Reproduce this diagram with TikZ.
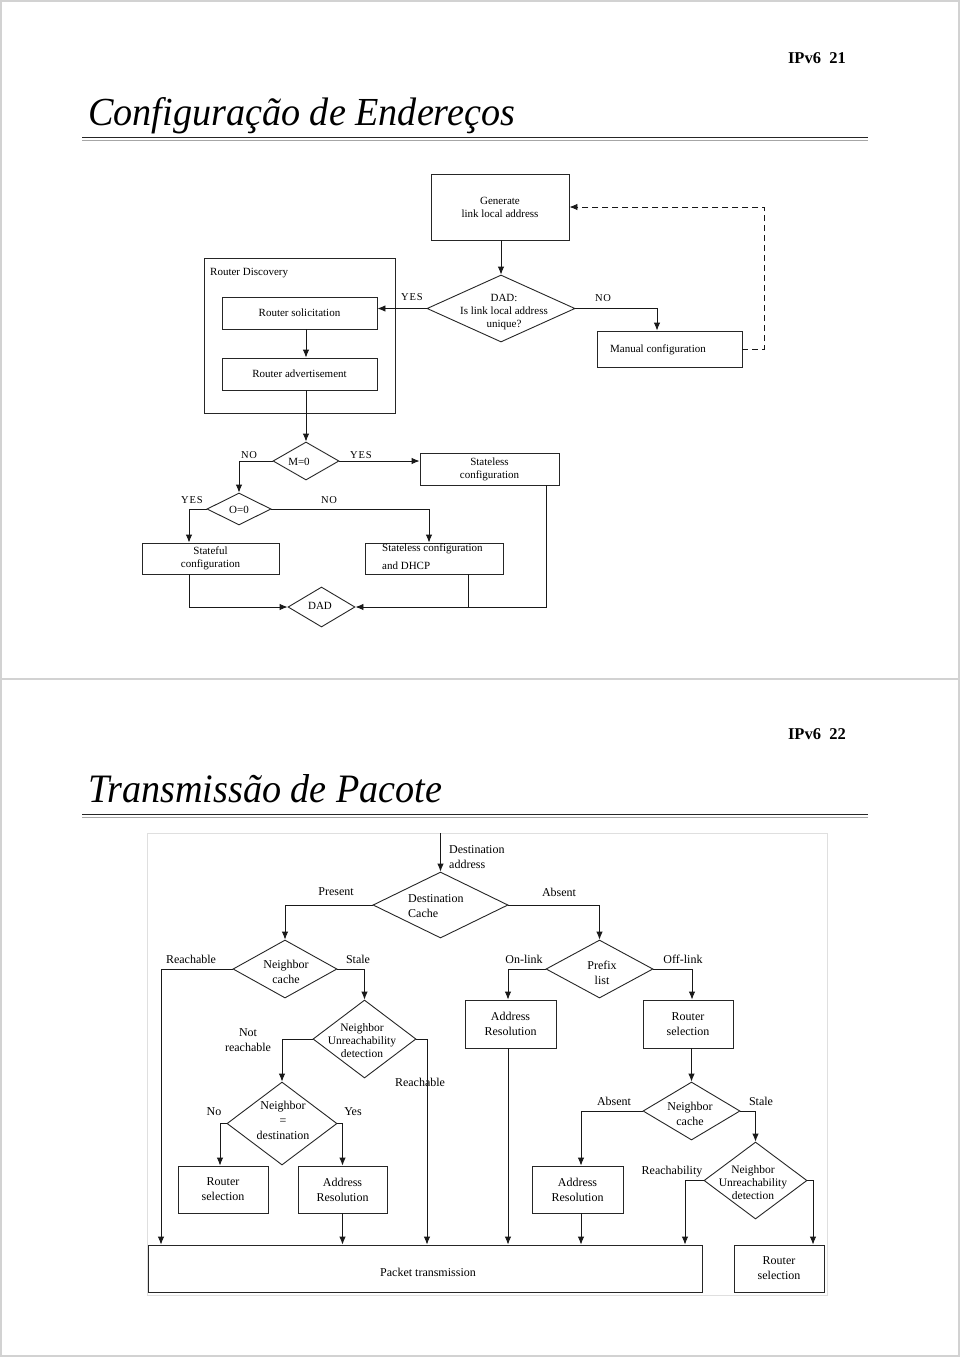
\documentclass[tikz,border=0pt]{standalone}
\usepackage{fontspec}
\setmainfont{Liberation Serif}
\usepackage{graphicx}
\usetikzlibrary{shapes.geometric,arrows.meta}
\newcommand\fdA{\fontsize{11}{13}\selectfont}
\newcommand\fdL{\fontsize{10.5}{12}\selectfont\addfontfeature{LetterSpace=8}}
\newcommand\fdB{\fontsize{12}{15}\selectfont}
\newcommand\fdN{\fontsize{11.5}{13}\selectfont}
\begin{document}
\begin{tikzpicture}[x=1pt,y=-1pt,
  box/.style={draw=black!85, line width=0.9pt, inner sep=0pt, align=center},
  dia/.style={draw=black!85, diamond, line width=0.9pt, inner sep=0pt},
  lbl/.style={inner sep=0pt, align=center},
  ln/.style={line width=0.9pt, draw=black!90},
  arr/.style={line width=0.9pt, draw=black!90, -{Latex[length=8pt,width=6.5pt]}},
  dsh/.style={line width=0.9pt, draw=black!90, dash pattern=on 6pt off 4pt, -{Latex[length=8pt,width=6.5pt]}},
  frame/.style={draw=gray!35, line width=1.5pt},
  pagenum/.style={inner sep=0pt, anchor=base east, font=\fontsize{16.5}{18}\selectfont\bfseries},
  title/.style={inner sep=0pt, anchor=base west},
]
\useasboundingbox (0,0) rectangle (960,1357);
\fill[white] (0,0) rectangle (960,1357);
% page frames
\draw[frame] (1,1) rectangle (959,679);
\draw[frame] (1,679) rectangle (959,1356);

% ===================== PAGE 1 =====================
\node[pagenum] (pn1) at (846,63) {IPv6~~21};
\node[title] (t1) at (88,125) {\resizebox{427pt}{28pt}{\itshape Configuração de Endereços}};
\draw[line width=1.4pt, black!85] (82,137.5) -- (868,137.5);
\draw[line width=1.2pt, gray!70] (82,140.3) -- (868,140.3);

% nodes
\node[box, minimum width=138pt, minimum height=66pt, font=\fdA] (gen) at (500,207) {Generate\\link local address};
\node[dia, minimum width=148pt, minimum height=67pt] (dad) at (501,308.5) {};
\node[lbl, font=\fdA] (dadt) at (504,312) {DAD:\\Is link local address\\unique?};
\node[box, minimum width=145pt, minimum height=36pt] (mc) at (669.5,349) {};
\node[lbl, font=\fdA] (mct) at (658,350) {Manual configuration};

\node[box, minimum width=191pt, minimum height=155pt] (rd) at (299.5,335.5) {};
\node[lbl, anchor=west, font=\fdA] (rdt) at (210,273) {Router Discovery};
\node[box, minimum width=155pt, minimum height=32pt, font=\fdA] (rs) at (299.5,313) {Router solicitation};
\node[box, minimum width=155pt, minimum height=32pt, font=\fdA] (ra) at (299.5,374) {Router advertisement};

\node[dia, minimum width=66pt, minimum height=38pt] (m0) at (306,461) {};
\node[lbl, font=\fdA] (m0t) at (299,462) {M=0};
\node[box, minimum width=139pt, minimum height=32pt, font=\fdA] (sc) at (489.5,469) {Stateless\\configuration};
\node[dia, minimum width=64pt, minimum height=32pt] (o0) at (239,509) {};
\node[lbl, font=\fdA] (o0t) at (239,510) {O=0};
\node[box, minimum width=137pt, minimum height=31pt, font=\fdA] (sf) at (210.5,558.5) {Stateful\\configuration};
\node[box, minimum width=138pt, minimum height=31pt] (sd) at (434,558.5) {};
\node[lbl, anchor=west, align=left, font=\fontsize{11}{18}\selectfont] (sdt) at (382,557) {Stateless configuration\\and DHCP};
\node[dia, minimum width=67pt, minimum height=40pt] (dad2) at (321.5,607) {};
\node[lbl, font=\fdA] (dad2t) at (320,606) {DAD};

% labels
\node[lbl, font=\fdL] (l1) at (412,297) {YES};
\node[lbl, font=\fdL] (l2) at (603,298) {NO};
\node[lbl, font=\fdL] (l3) at (249,455) {NO};
\node[lbl, font=\fdL] (l4) at (361,455) {YES};
\node[lbl, font=\fdL] (l5) at (192,500) {YES};
\node[lbl, font=\fdL] (l6) at (329,500) {NO};

% connectors
\draw[arr] (gen.south -| dad.north) -- (dad.north);
\draw[arr] (dad.west) -- (dad.west -| rs.east);
\draw[arr] (dad.east) -| (mc.north -| 657,0);
\draw[dsh] (mc.east) -- ++(22,0) |- (gen.east);
\draw[arr] (rs.south -| m0.north) -- (ra.north -| m0.north);
\draw[arr] (ra.south -| m0.north) -- (m0.north);
\draw[arr] (m0.east) -- (m0.east -| sc.west);
\draw[arr] (m0.west) -| (o0.north);
\draw[arr] (o0.west) -| (sf.north -| 189,0);
\draw[arr] (o0.east) -| (sd.north -| 429,0);
\draw[arr] (sf.south -| 189,0) |- (dad2.west);
\draw[arr] (sc.south -| 546,0) |- (dad2.east);
\draw[ln] (sd.south -| 468,0) -- (dad2.east -| 468,0);

% ===================== PAGE 2 =====================
\node[pagenum] (pn2) at (846,739) {IPv6~~22};
\node[title] (t2) at (88,802) {\resizebox{354pt}{28pt}{\itshape Transmissão de Pacote}};
\draw[line width=1.4pt, black!85] (82,814.5) -- (868,814.5);
\draw[line width=1.2pt, gray!70] (82,817.3) -- (868,817.3);

\draw[gray!25, line width=0.8pt] (147,833) rectangle (827,1295);

\coordinate (in) at (440.5,833);
\node[lbl, anchor=west, align=left, font=\fdB] (dat) at (449,857) {Destination\\address};
\node[dia, minimum width=135pt, minimum height=66pt] (dc) at (440.5,905) {};
\node[lbl, anchor=west, align=left, font=\fdB] (dct) at (408,906) {Destination\\Cache};

\node[dia, minimum width=104pt, minimum height=58pt] (nc1) at (285,969) {};
\node[lbl, font=\fdB] (nc1t) at (286,972) {Neighbor\\cache};
\node[dia, minimum width=107pt, minimum height=58pt] (pl) at (599.5,969) {};
\node[lbl, font=\fdB] (plt) at (602,973) {Prefix\\list};

\node[dia, minimum width=103pt, minimum height=78pt] (nud1) at (364.5,1039) {};
\node[lbl, font=\fdN] (nud1t) at (362,1041) {Neighbor\\Unreachability\\detection};
\node[box, minimum width=91pt, minimum height=48pt, font=\fdB] (ar1) at (510.5,1024) {Address\\Resolution};
\node[box, minimum width=90pt, minimum height=48pt, font=\fdB] (rs1) at (688,1024) {Router\\selection};

\node[dia, minimum width=110pt, minimum height=83pt] (nd) at (282,1123.5) {};
\node[lbl, font=\fdB] (ndt) at (283,1120) {Neighbor\\=\\destination};
\node[dia, minimum width=97pt, minimum height=58pt] (nc2) at (691.5,1111) {};
\node[lbl, font=\fdB] (nc2t) at (690,1114) {Neighbor\\cache};
\node[dia, minimum width=103pt, minimum height=77pt] (nud2) at (755.5,1180.5) {};
\node[lbl, font=\fdN] (nud2t) at (753,1183) {Neighbor\\Unreachability\\detection};

\node[box, minimum width=90pt, minimum height=47pt, font=\fdB] (rs2) at (223,1189.5) {Router\\selection};
\node[box, minimum width=89pt, minimum height=47pt, font=\fdB] (ar2) at (342.5,1189.5) {Address\\Resolution};
\node[box, minimum width=91pt, minimum height=47pt, font=\fdB] (ar3) at (577.5,1189.5) {Address\\Resolution};
\node[box, minimum width=554pt, minimum height=47pt] (pt) at (425,1268.5) {};
\node[lbl, font=\fdB] (ptt) at (428,1272) {Packet transmission};
\node[box, minimum width=90pt, minimum height=47pt, font=\fdB] (rs3) at (779,1268.5) {Router\\selection};

% labels
\node[lbl, font=\fdB] (m1) at (336,892) {Present};
\node[lbl, font=\fdB] (m2) at (559,892) {Absent};
\node[lbl, font=\fdB] (m3) at (191,959) {Reachable};
\node[lbl, font=\fdB] (m4) at (358,959) {Stale};
\node[lbl, font=\fdB] (m5) at (524,959) {On-link};
\node[lbl, font=\fdB] (m6) at (683,959) {Off-link};
\node[lbl, font=\fdB] (m7) at (248,1040) {Not\\reachable};
\node[lbl, font=\fdB] (m8) at (420,1082) {Reachable};
\node[lbl, font=\fdB] (m9) at (214,1112) {No};
\node[lbl, font=\fdB] (m10) at (353,1112) {Yes};
\node[lbl, font=\fdB] (m11) at (614,1101) {Absent};
\node[lbl, font=\fdB] (m12) at (761,1101) {Stale};
\node[lbl, font=\fdB] (m13) at (672,1172) {Reachability};

% connectors
\draw[arr] (in) -- (dc.north);
\draw[arr] (dc.west) -| (nc1.north);
\draw[arr] (dc.east) -| (pl.north);
\draw[arr] (nc1.west) -| (pt.north -| 161,0);
\draw[arr] (nc1.east) -| (nud1.north);
\draw[arr] (nud1.west) -| (nd.north);
\draw[arr] (nud1.east) -| (pt.north -| 427,0);
\draw[arr] (nd.west) -| (rs2.north -| 220,0);
\draw[arr] (nd.east) -| (ar2.north);
\draw[arr] (ar2.south) -- (pt.north -| ar2.south);
\draw[arr] (pl.west) -| (ar1.north -| 508,0);
\draw[arr] (pl.east) -| (rs1.north -| 692,0);
\draw[arr] (ar1.south -| 508,0) -- (pt.north -| 508,0);
\draw[arr] (rs1.south -| nc2.north) -- (nc2.north);
\draw[arr] (nc2.west) -| (ar3.north -| 581,0);
\draw[arr] (nc2.east) -| (nud2.north);
\draw[arr] (ar3.south -| 581,0) -- (pt.north -| 581,0);
\draw[arr] (nud2.west) -| (pt.north -| 685,0);
\draw[arr] (nud2.east) -| (rs3.north -| 813,0);
\end{tikzpicture}
\end{document}
